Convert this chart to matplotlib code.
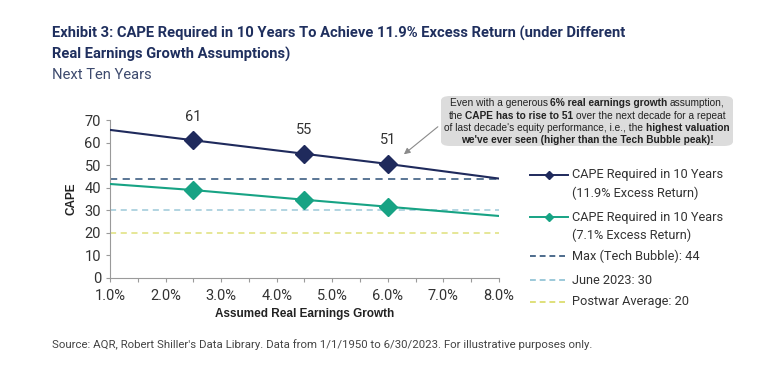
import matplotlib
matplotlib.use("Agg")
import matplotlib.pyplot as plt
from matplotlib.lines import Line2D
from matplotlib.patches import FancyBboxPatch

# ---- data ----
growth = [1.0, 2.5, 4.5, 6.0, 8.0]
cape_119 = [65.6, 61.0, 55.0, 50.5, 44.0]
cape_71 = [41.6, 38.9, 34.6, 31.5, 27.4]
marker_idx = [1, 2, 3]
point_labels = ["61", "55", "51"]
max_tech = 44
june_2023 = 30
postwar = 20
xticks = [1, 2, 3, 4, 5, 6, 7, 8]
xtick_labels = ["1.0%", "2.0%", "3.0%", "4.0%", "5.0%", "6.0%", "7.0%", "8.0%"]
yticks = [0, 10, 20, 30, 40, 50, 60, 70]

NAVY = "#1f2a5c"
TEAL = "#17a384"
MAXC = "#4d6b8c"
JUNEC = "#9cc9d9"
POSTC = "#dfe07a"
TXT = "#333333"

W, H = 766, 383
fig = plt.figure(figsize=(W / 100, H / 100), dpi=100)
fig.patch.set_facecolor("white")

def fx(px):
    return px / W

def fy(py):
    return 1 - py / H

ax = fig.add_axes([fx(110), fy(277.7), fx(499) - fx(110), fy(120) - fy(277.7)])
ax.set_xlim(1, 8)
ax.set_ylim(0, 70)

ax.axhline(max_tech, color=MAXC, lw=1.3, ls=(0, (4, 3)), zorder=2)
ax.axhline(june_2023, color=JUNEC, lw=1.1, ls=(0, (4, 3)), zorder=2)
ax.axhline(postwar, color=POSTC, lw=1.1, ls=(0, (4, 3)), zorder=2)

ax.plot(growth, cape_119, color=NAVY, lw=1.5, marker="D", markersize=9,
        markevery=marker_idx, zorder=4)
ax.plot(growth, cape_71, color=TEAL, lw=1.5, marker="D", markersize=9,
        markevery=marker_idx, zorder=4)

for i, lab in zip(marker_idx, point_labels):
    ax.text(growth[i], cape_119[i] + 10.5, lab, ha="center", va="center",
            fontsize=10.5, family="Roboto", color=TXT)

for s in ["top", "right"]:
    ax.spines[s].set_visible(False)
for s in ["left", "bottom"]:
    ax.spines[s].set_color("#9a9a9a")
    ax.spines[s].set_linewidth(0.8)

ax.set_xticks(xticks)
ax.set_xticklabels(xtick_labels)
ax.set_xticks([1.5, 2.5, 3.5, 4.5, 5.5, 6.5, 7.5], minor=True)
ax.set_yticks(yticks)
ax.tick_params(axis="both", which="both", direction="out", length=3,
               color="#9a9a9a", width=0.8, labelsize=10.5, labelcolor=TXT)
ax.tick_params(axis="x", pad=5)
for lab in ax.get_xticklabels() + ax.get_yticklabels():
    lab.set_family("Roboto")

ax.set_xlabel("Assumed Real Earnings Growth", family="Liberation Sans",
              fontweight="bold", fontsize=8.5, color="#222222", labelpad=4)
ax.set_ylabel("CAPE", family="Liberation Sans", fontweight="bold",
              fontsize=8.5, color="#222222", labelpad=5)

# ---- titles ----
fig.text(fx(52), fy(33), "Exhibit 3: CAPE Required in 10 Years To Achieve 11.9% Excess Return (under Different",
         family="Roboto", fontweight="bold", fontsize=10.6, color="#1f2f5e", va="center")
fig.text(fx(52), fy(54), "Real Earnings Growth Assumptions)",
         family="Roboto", fontweight="bold", fontsize=10.6, color="#1f2f5e", va="center")
fig.text(fx(52), fy(75), "Next Ten Years", family="Roboto", fontsize=10.6,
         color="#3d4a6e", va="center")
fig.text(fx(52), fy(345), "Source: AQR, Robert Shiller's Data Library. Data from 1/1/1950 to 6/30/2023. For illustrative purposes only.",
         family="Roboto", fontsize=8.2, color="#444444", va="center")

# ---- legend (manual) ----
leg = [
    (NAVY, "-", "D", ["CAPE Required in 10 Years", "(11.9% Excess Return)"], 175),
    (TEAL, "-", "D", ["CAPE Required in 10 Years", "(7.1% Excess Return)"], 217),
    (MAXC, (0, (3, 2)), None, ["Max (Tech Bubble): 44"], 256),
    (JUNEC, (0, (3, 2)), None, ["June 2023: 30"], 280),
    (POSTC, (0, (3, 2)), None, ["Postwar Average: 20"], 302),
]
for color, ls, mk, lines, y in leg:
    fig.add_artist(Line2D([fx(530), fx(568)], [fy(y), fy(y)], color=color,
                          lw=1.4, ls=ls, transform=fig.transFigure))
    if mk:
        fig.add_artist(Line2D([fx(549)], [fy(y)], color=color, marker=mk,
                              markersize=4, transform=fig.transFigure))
    for k, t in enumerate(lines):
        fig.text(fx(572), fy(y + 18 * k), t, family="Roboto", fontsize=9.2,
                 color=TXT, va="center")

# ---- annotation box ----
box = FancyBboxPatch((fx(441), fy(146)), fx(733) - fx(441), fy(96) - fy(146),
                     boxstyle="round,pad=0,rounding_size=0.012",
                     transform=fig.transFigure, facecolor="#dcdcdc",
                     edgecolor="none", zorder=5)
fig.add_artist(box)

ax.annotate("", xy=(6.25, 54), xycoords="data",
            xytext=(fx(440), fy(125)), textcoords="figure fraction",
            arrowprops=dict(arrowstyle="-|>", color="#8a8a8a", lw=0.8,
                            mutation_scale=9), zorder=6)

box_lines = [
    [("Even with a generous", False), ("6% real earnings growth", True), ("assumption,", False)],
    [("the", False), ("CAPE has to rise to 51", True), ("over the next decade for a repeat", False)],
    [("of last decade's equity performance, i.e., the", False), ("highest valuation", True)],
    [("we've ever seen (higher than the Tech Bubble peak)!", True)],
]
box_y = [103.3, 115.6, 127.8, 140.0]
fig.canvas.draw()
r = fig.canvas.get_renderer()
FS = 7.3

def width(t):
    fig.canvas.draw()
    return t.get_window_extent(r).width

def space_w(bold):
    a = fig.text(0, 0, "x x", family="Liberation Sans", fontsize=FS,
                 fontweight="bold" if bold else "normal")
    b = fig.text(0, 0, "xx", family="Liberation Sans", fontsize=FS,
                 fontweight="bold" if bold else "normal")
    w = width(a) - width(b)
    a.remove(); b.remove()
    return w

sp = space_w(False) * 0.85
cx = (441 + 733) / 2
for segs, y in zip(box_lines, box_y):
    objs = []
    for txt, bold in segs:
        t = fig.text(0, fy(y), txt, family="Liberation Sans", fontsize=FS,
                     fontweight="bold" if bold else "normal", color="#222222",
                     va="center", ha="left", zorder=7)
        objs.append(t)
    fig.canvas.draw()
    ws = [o.get_window_extent(r).width for o in objs]
    total = sum(ws) + sp * (len(ws) - 1)
    x = cx - total / 2
    for o, w in zip(objs, ws):
        o.set_x(fx(x))
        x += w + sp

fig.savefig("out.png", dpi=100)
